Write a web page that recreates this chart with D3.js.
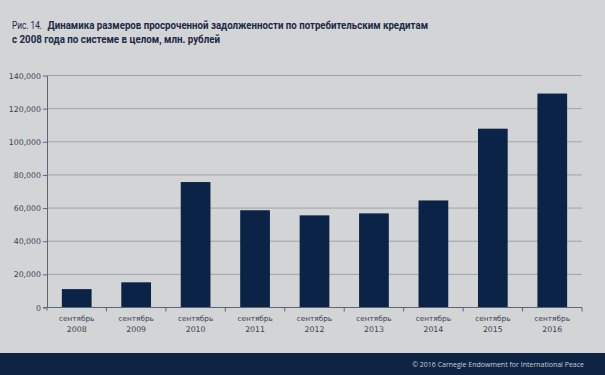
<!DOCTYPE html>
<html>
<head>
<meta charset="utf-8">
<script src="https://cdn.jsdelivr.net/npm/d3@7"></script>
<style>
	body { margin: 0; background: #d3d4d6; }
	svg { display: block; }
</style>
</head>
<body>
<svg id="chart"></svg>
<script>
var months = ['сентябрь', 'сентябрь', 'сентябрь', 'сентябрь', 'сентябрь', 'сентябрь', 'сентябрь', 'сентябрь', 'сентябрь'];
var years = ['2008', '2009', '2010', '2011', '2012', '2013', '2014', '2015', '2016'];
var values = [11100, 15200, 75700, 58700, 55600, 56800, 64600, 107900, 129100];
var yTicks = [0, 20000, 40000, 60000, 80000, 100000, 120000, 140000];

function makeChart() {
	let w = 605;
	let h = 375;
	let left = 47, right = 582, top = 75.5, bottom = 307.5;

	let chart = d3.select('#chart')
		.attr('width', w)
		.attr('height', h);

	chart.append('rect')
		.attr('width', w)
		.attr('height', h)
		.style('fill', '#d3d4d6');

	// title
	let title = chart.append('g')
		.style('font-family', 'Roboto, sans-serif')
		.style('font-size', '10.8px')
		.style('fill', '#1a2a48');
	title.append('text')
		.attr('x', 12)
		.attr('y', 29)
		.attr('textLength', 30)
		.attr('lengthAdjust', 'spacingAndGlyphs')
		.text('Рис. 14.');
	title.append('text')
		.attr('x', 47.5)
		.attr('y', 29)
		.attr('textLength', 380.5)
		.attr('lengthAdjust', 'spacingAndGlyphs')
		.style('font-weight', 'bold')
		.text('Динамика размеров просроченной задолженности по потребительским кредитам');
	title.append('text')
		.attr('x', 12)
		.attr('y', 43)
		.attr('textLength', 208)
		.attr('lengthAdjust', 'spacingAndGlyphs')
		.style('font-weight', 'bold')
		.text('с 2008 года по системе в целом, млн. рублей');

	let x = d3.scaleBand()
		.domain(years)
		.range([left, right])
		.paddingInner(0.5)
		.paddingOuter(0.25);

	let y = d3.scaleLinear()
		.domain([0, 140000])
		.range([bottom, top]);

	// gridlines
	chart.selectAll('.grid')
		.data(yTicks.slice(1))
		.enter()
		.append('line')
		.classed('grid', true)
		.attr('x1', left)
		.attr('x2', right)
		.attr('y1', d => y(d))
		.attr('y2', d => y(d))
		.style('stroke', '#9ea2a8')
		.style('stroke-width', 1);

	// bars
	chart.selectAll('.bar')
		.data(values)
		.enter()
		.append('rect')
		.classed('bar', true)
		.attr('x', (d, i) => x(years[i]))
		.attr('width', x.bandwidth())
		.attr('y', d => y(d))
		.attr('height', d => y(0) - y(d))
		.style('fill', '#0b2347');

	// y axis
	let yAxis = chart.append('g')
		.attr('transform', 'translate(' + left + ',0)')
		.call(d3.axisLeft(y).tickValues(yTicks).tickSize(4).tickSizeOuter(0)
			.tickFormat(d3.format(',')));
	yAxis.select('.domain').style('stroke', '#5d6576');
	yAxis.selectAll('.tick line').style('stroke', '#5d6576');
	yAxis.selectAll('text')
		.attr('x', -6)
		.style('font-family', '"DejaVu Sans", sans-serif')
		.style('font-size', '7.8px')
		.style('fill', '#3a4152');
	yAxis.append('line')
		.attr('y1', bottom)
		.attr('y2', bottom + 3)
		.style('stroke', '#5d6576');

	// x axis
	let xAxisG = chart.append('g');
	xAxisG.append('line')
		.attr('x1', left - 4)
		.attr('x2', right)
		.attr('y1', bottom)
		.attr('y2', bottom)
		.style('stroke', '#5d6576');
	let step = x.step();
	xAxisG.selectAll('.xtick')
		.data(years)
		.enter()
		.append('line')
		.classed('xtick', true)
		.attr('x1', d => x(d) + x.bandwidth() + step * 0.25)
		.attr('x2', d => x(d) + x.bandwidth() + step * 0.25)
		.attr('y1', bottom)
		.attr('y2', bottom + 4)
		.style('stroke', '#5d6576');

	let labels = xAxisG.selectAll('.xlabel')
		.data(years)
		.enter()
		.append('text')
		.classed('xlabel', true)
		.attr('text-anchor', 'middle')
		.style('font-family', '"DejaVu Sans", sans-serif')
		.style('font-size', '7.3px')
		.style('fill', '#3a4152');
	labels.append('tspan')
		.attr('x', d => x(d) + x.bandwidth() / 2)
		.attr('y', 321)
		.text((d, i) => months[i]);
	labels.append('tspan')
		.attr('x', d => x(d) + x.bandwidth() / 2)
		.attr('y', 331.5)
		.style('font-size', '7.8px')
		.text(d => d);

	// footer
	chart.append('rect')
		.attr('x', 0)
		.attr('y', 353)
		.attr('width', w)
		.attr('height', h - 353)
		.style('fill', '#0e2445');
	chart.append('text')
		.attr('x', 584)
		.attr('y', 367)
		.attr('text-anchor', 'end')
		.style('font-family', '"Open Sans", sans-serif')
		.style('font-size', '7px')
		.style('fill', '#c8ccd3')
		.text('© 2016 Carnegie Endowment for International Peace');
}

makeChart();
</script>
</body>
</html>
